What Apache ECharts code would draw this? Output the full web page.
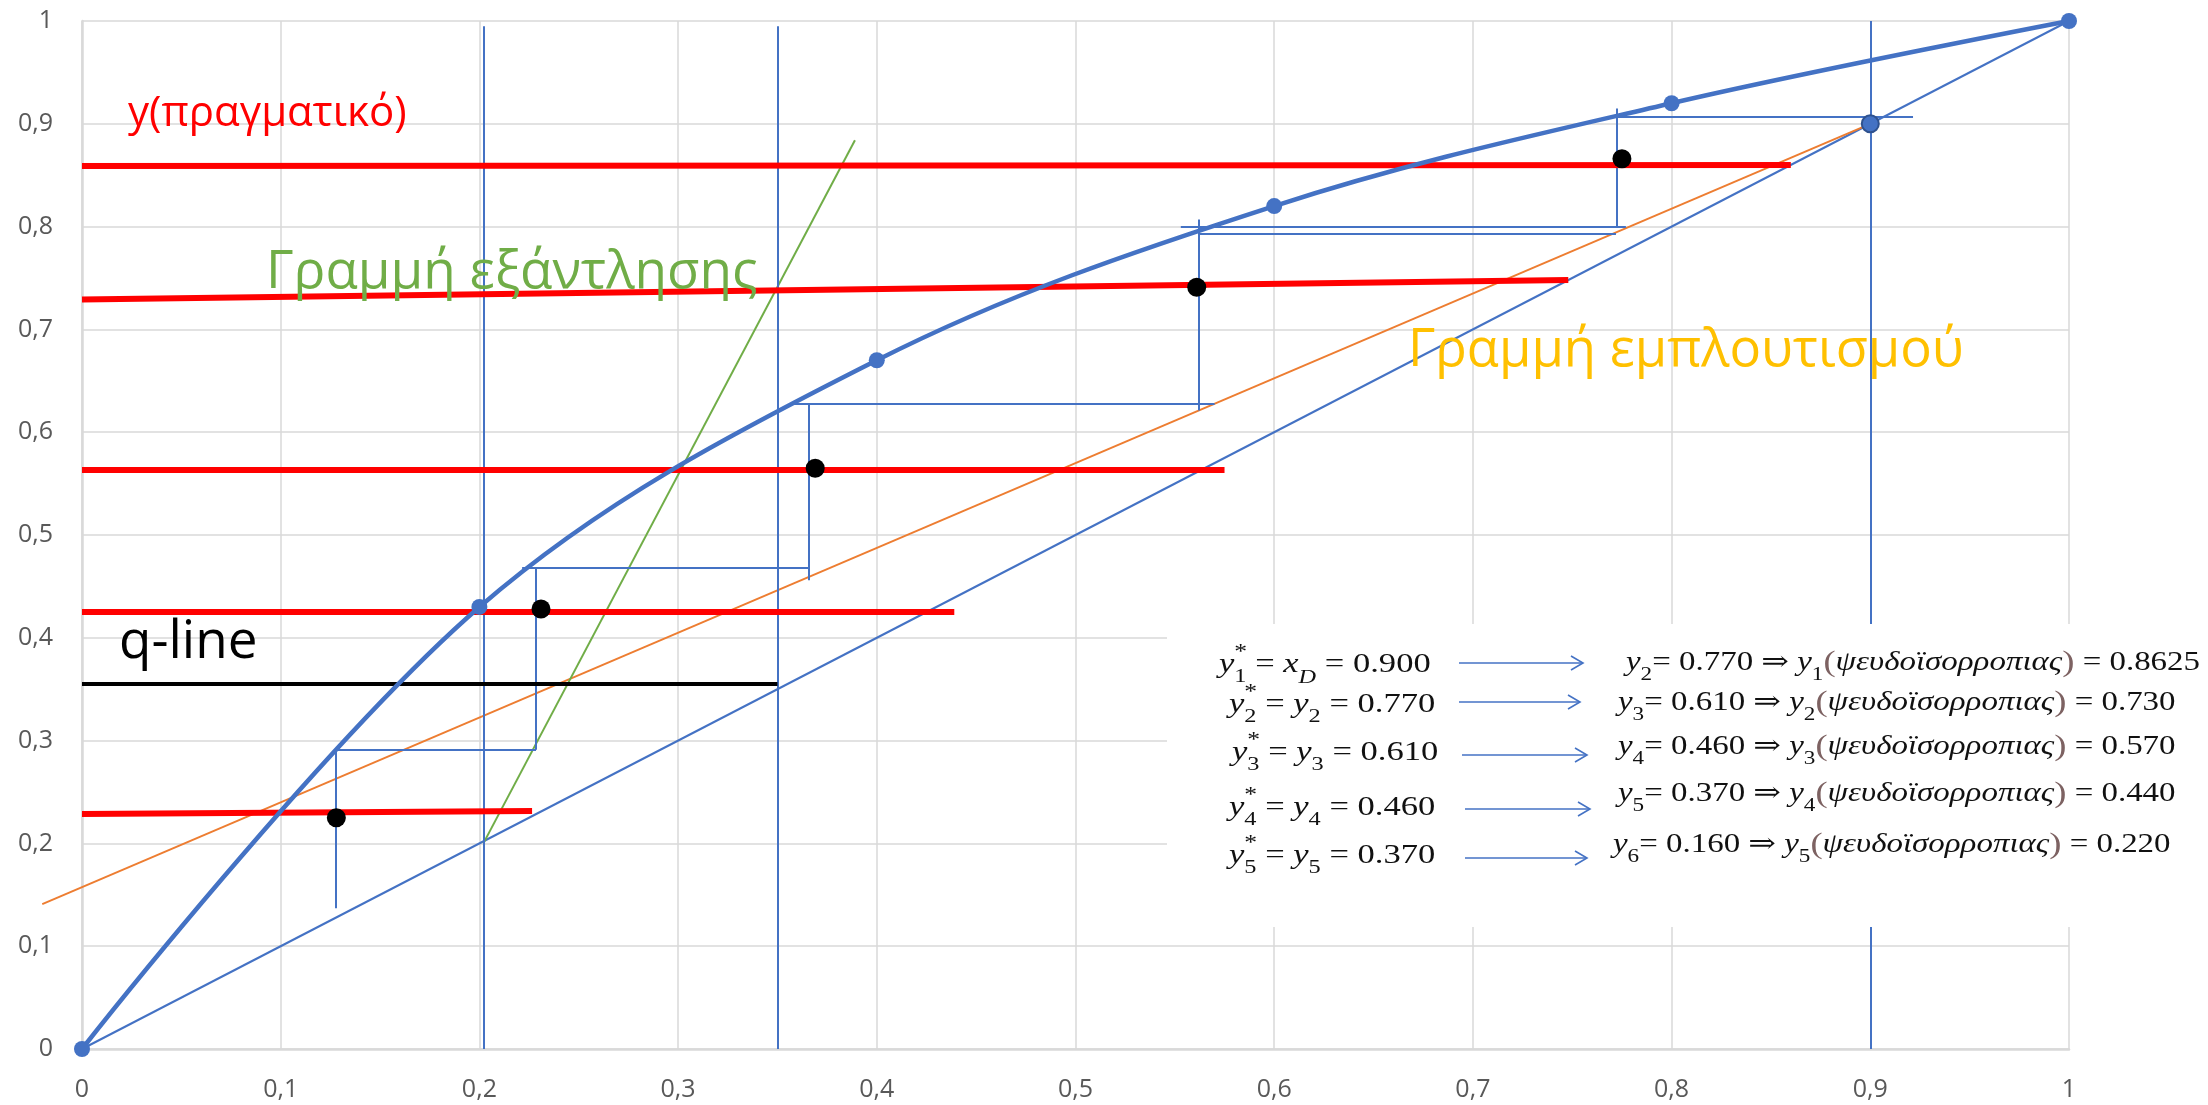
<!DOCTYPE html>
<html>
<head>
<meta charset="utf-8">
<script src="https://cdn.jsdelivr.net/npm/echarts@6/dist/echarts.min.js"></script>
<style>
  html, body { margin: 0; padding: 0; background: #ffffff; }
  #chart { width: 2208px; height: 1105px; }
</style>
</head>
<body>
<div id="chart"></div>
<script>
// ---- McCabe–Thiele diagram data ----
// Axis ticks (both axes 0..1 in steps of 0.1)
const axisMin = 0, axisMax = 1, axisStep = 0.1;

// Equilibrium curve points
const eqX = [0, 0.2, 0.4, 0.6, 0.8, 1.0];
const eqY = [0, 0.43, 0.67, 0.82, 0.92, 1.0];

// Diagonal y = x
const diagX = [0, 1];
const diagY = [0, 1];

// Enrichment (rectifying) operating line
const opX = [-0.02, 0.9];
const opY = [0.141, 0.9];

// Exhaustion (stripping) line
const stripX = [0.202, 0.389];
const stripY = [0.2, 0.884];

// q-line (horizontal)
const qX = [0, 0.35];
const qY = [0.355, 0.355];

// Vertical guides: x_W, x_F, x_D
const guideX = [0.202, 0.35, 0.9];
const guideTop = [0.995, 0.995, 1.0];

// Real y lines (start/end)
const realX0 = [0, 0, 0, 0, 0];
const realX1 = [0.86, 0.748, 0.575, 0.439, 0.2265];
const realY0 = [0.859, 0.729, 0.563, 0.425, 0.2286];
const realY1 = [0.860, 0.748, 0.563, 0.425, 0.2315];

// Pseudo-equilibrium points
const pseudoX = [0.775, 0.561, 0.369, 0.231, 0.128];
const pseudoYpt = [0.866, 0.741, 0.565, 0.428, 0.225];

// Distillate composition point
const xD = [0.9, 0.9];

// Stage construction segments: [x1, y1, x2, y2]
const stepSegs = [
  [0.772, 0.907, 0.9215, 0.907],
  [0.7725, 0.915, 0.7725, 0.800],
  [0.553, 0.800, 0.777, 0.800],
  [0.562, 0.793, 0.772, 0.793],
  [0.562, 0.807, 0.562, 0.621],
  [0.357, 0.628, 0.570, 0.628],
  [0.366, 0.628, 0.366, 0.456],
  [0.2215, 0.468, 0.366, 0.468],
  [0.2285, 0.468, 0.2285, 0.291],
  [0.1273, 0.291, 0.2285, 0.291],
  [0.1278, 0.291, 0.1278, 0.137]
];

// Stage calculation notes
const stageNo = ['1', '2', '3', '4', '5'];
const stageLeftRhsVar = ['x', 'y', 'y', 'y', 'y'];
const stageLeftRhsSub = ['D', '2', '3', '4', '5'];
const stageYstar = ['0.900', '0.770', '0.610', '0.460', '0.370'];
const nextNo = ['2', '3', '4', '5', '6'];
const nextY = ['0.770', '0.610', '0.460', '0.370', '0.160'];
const pseudoY = ['0.8625', '0.730', '0.570', '0.440', '0.220'];

// ---- layout ----
const BLUE = '#4472C4';
const seg = (x1, y1, x2, y2) => ({ coords: [[x1, y1], [x2, y2]] });
const fmt = v => {
  if (Math.abs(v) < 1e-9) return '0';
  if (Math.abs(v - 1) < 1e-9) return '1';
  return v.toFixed(1).replace('.', ',');
};

const linesSeries = (name, data, color, width, z, extra) => Object.assign({
  name, type: 'lines', coordinateSystem: 'cartesian2d', polyline: false,
  silent: true, z, data,
  lineStyle: { color, width, opacity: 1, type: 'solid' }
}, extra || {});

const boxFont = "'Liberation Serif', 'DejaVu Serif', serif";
const rich = {
  n:   { fontSize: 27, fontFamily: boxFont, lineHeight: 44, fill: '#111' },
  v:   { fontSize: 27, fontFamily: boxFont, fontStyle: 'italic', lineHeight: 44, fill: '#111' },
  sb:  { fontSize: 19, fontFamily: boxFont, lineHeight: 20, verticalAlign: 'bottom', fill: '#111' },
  sbi: { fontSize: 19, fontFamily: boxFont, fontStyle: 'italic', lineHeight: 20, verticalAlign: 'bottom', fill: '#111' },
  st:  { fontSize: 20, fontFamily: boxFont, lineHeight: 34, verticalAlign: 'top', width: 0, fill: '#111' },
  p:   { fontSize: 30, fontFamily: boxFont, lineHeight: 44, fill: '#7d6262' }
};
const leftStretch = 1.28;
const rightStretch = 1.22;

const leftPos = [[1219, 665], [1229, 705], [1232, 753], [1229, 808], [1229, 856]];
const rightPos = [[1626, 663], [1618, 703], [1618, 747], [1618, 794], [1613, 845]];
const arrowPos = [[1459, 1583, 663], [1459, 1580, 702], [1462, 1587, 755], [1465, 1590, 809], [1465, 1587, 858]];

const boxElements = [
  { type: 'rect', z: 100, shape: { x: 1167, y: 624, width: 1041, height: 303 }, style: { fill: '#ffffff' } }
];
stageNo.forEach((s, i) => {
  const subTag = stageLeftRhsVar[i] === 'x' ? 'sbi' : 'sb';
  boxElements.push({
    type: 'text', z: 101, x: leftPos[i][0], y: leftPos[i][1], scaleX: leftStretch,
    style: {
      x: 0, y: 0, align: 'left', verticalAlign: 'middle', rich,
      text: `{v|y}{st|*}{sb|${s}}{n| = }{v|${stageLeftRhsVar[i]}}{${subTag}|${stageLeftRhsSub[i]}}{n| = ${stageYstar[i]}}`
    }
  });
  boxElements.push({
    type: 'text', z: 101, x: rightPos[i][0], y: rightPos[i][1], scaleX: rightStretch,
    style: {
      x: 0, y: 0, align: 'left', verticalAlign: 'middle', rich,
      text: `{v|y}{sb|${nextNo[i]}}{n|= ${nextY[i]} ⇒ }{v|y}{sb|${s}}{p|(}{v|ψευδοϊσορροπιας}{p|)}{n| = ${pseudoY[i]}}`
    }
  });
  const [ax0, ax1, ay] = arrowPos[i];
  boxElements.push({
    type: 'polyline', z: 101,
    shape: { points: [[ax0, ay], [ax1, ay]] },
    style: { stroke: BLUE, lineWidth: 1.6, fill: null }
  });
  boxElements.push({
    type: 'polyline', z: 101,
    shape: { points: [[ax1 - 12, ay - 7], [ax1, ay], [ax1 - 12, ay + 7]] },
    style: { stroke: BLUE, lineWidth: 1.6, fill: null }
  });
});

const labelFont = "'Open Sans', 'Noto Sans', sans-serif";
const chartLabels = [
  { type: 'text', z: 90, style: { x: 128, y: 114, text: 'y(πραγματικό)', fill: '#FF0000', font: `42px ${labelFont}`, verticalAlign: 'middle' } },
  { type: 'text', z: 90, style: { x: 266, y: 273, text: 'Γραμμή εξάντλησης', fill: '#70AD47', font: `53px ${labelFont}`, verticalAlign: 'middle' } },
  { type: 'text', z: 90, style: { x: 1408, y: 351, text: 'Γραμμή εμπλουτισμού', fill: '#FFC000', font: `52.5px ${labelFont}`, verticalAlign: 'middle' } },
  { type: 'text', z: 90, style: { x: 119, y: 643, text: 'q-line', fill: '#000000', font: `53px ${labelFont}`, verticalAlign: 'middle' } }
];

const option = {
  backgroundColor: '#ffffff',
  animation: false,
  grid: { left: 82, right: 139, top: 21, bottom: 56, containLabel: false },
  xAxis: {
    type: 'value', min: axisMin, max: axisMax, interval: axisStep,
    axisLine: { show: true, lineStyle: { color: '#d9d9d9', width: 2.5 } },
    axisTick: { show: false },
    splitLine: { show: true, lineStyle: { color: '#d9d9d9', width: 1.5 } },
    axisLabel: { formatter: fmt, color: '#595959', fontSize: 25, fontFamily: labelFont, margin: 28 }
  },
  yAxis: {
    type: 'value', min: axisMin, max: axisMax, interval: axisStep,
    axisLine: { show: true, lineStyle: { color: '#d9d9d9', width: 2.5 } },
    axisTick: { show: false },
    splitLine: { show: true, lineStyle: { color: '#d9d9d9', width: 1.5 } },
    axisLabel: { formatter: fmt, color: '#595959', fontSize: 25, fontFamily: labelFont, margin: 29 }
  },
  series: [
    linesSeries('diagonal', [seg(diagX[0], diagY[0], diagX[1], diagY[1])], BLUE, 2, 3),
    linesSeries('enrichment', [seg(opX[0], opY[0], opX[1], opY[1])], '#ED7D31', 2, 4, { clip: false }),
    linesSeries('exhaustion', [seg(stripX[0], stripY[0], stripX[1], stripY[1])], '#70AD47', 2, 5),
    linesSeries('guides', guideX.map((x, i) => seg(x, 0, x, guideTop[i])), BLUE, 2, 6),
    linesSeries('stages', stepSegs.map(s => seg(s[0], s[1], s[2], s[3])), BLUE, 2, 7),
    linesSeries('q-line', [seg(qX[0], qY[0], qX[1], qY[1])], '#000000', 4, 8),
    linesSeries('real y', realX0.map((x, i) => seg(x, realY0[i], realX1[i], realY1[i])), '#FF0000', 6, 9),
    {
      name: 'equilibrium', type: 'line', z: 10, silent: true,
      data: eqX.map((x, i) => [x, eqY[i]]),
      smooth: 0.35,
      symbol: 'circle', symbolSize: 16, showSymbol: true,
      itemStyle: { color: BLUE, opacity: 1 },
      lineStyle: { color: BLUE, width: 4.5 }
    },
    {
      name: 'pseudo', type: 'scatter', z: 11, silent: true,
      data: pseudoX.map((x, i) => [x, pseudoYpt[i]]),
      symbol: 'circle', symbolSize: 19,
      itemStyle: { color: '#000000', opacity: 1 }
    },
    {
      name: 'xD', type: 'scatter', z: 12, silent: true,
      data: [xD],
      symbol: 'circle', symbolSize: 17,
      itemStyle: { color: BLUE, borderColor: '#2F528F', borderWidth: 2, opacity: 1 }
    }
  ],
  graphic: { elements: chartLabels.concat(boxElements) }
};

const chart = echarts.init(document.getElementById('chart'), null, { renderer: 'canvas' });
chart.setOption(option);
</script>
</body>
</html>
